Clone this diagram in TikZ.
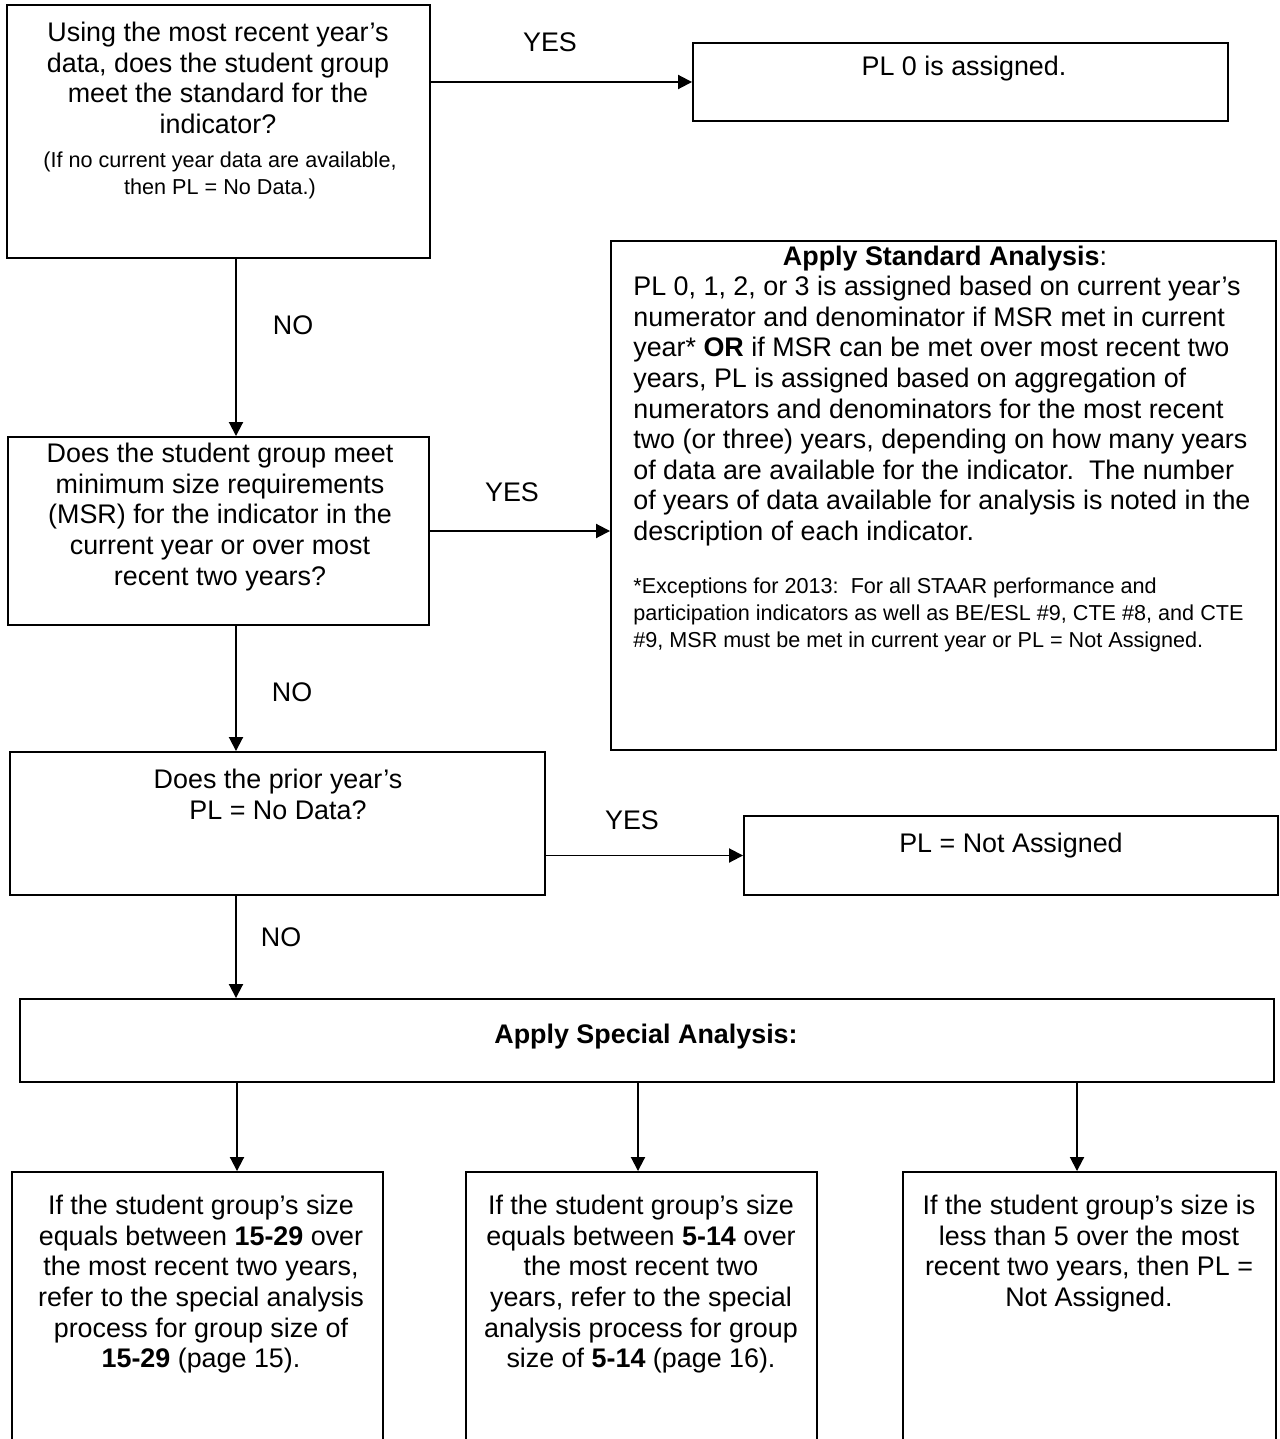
\documentclass[tikz,border=0pt]{standalone}
\usepackage{fontspec}
\setmainfont{Liberation Sans}
\usetikzlibrary{positioning,fit,arrows.meta}

\begin{document}
\begin{tikzpicture}[x=0.02cm, y=-0.02cm, line cap=rect]
  \tikzset{box/.style={draw, line width=1.1pt, inner sep=0pt},
    txt/.style={inner sep=0pt, align=center, font=\fontsize{15.3}{17.4}\selectfont},
    note/.style={inner sep=0pt, font=\fontsize{12.3}{15.4}\selectfont},
    lbl/.style={inner sep=0pt, font=\fontsize{15.3}{17.4}\selectfont},
    flow/.style={line width=1.1pt, -{Triangle[length=0.28cm, width=0.28cm]}}}
  \useasboundingbox (0,0) rectangle (1280,1439);
  \clip (0,0) rectangle (1280,1439);
  % vakken
  \node[box, fit={(7,5) (430,258)}] (q1) {};
  \node[box, fit={(693,43) (1228,121)}] (pl0) {};
  \node[box, fit={(8,437) (429,625)}] (q2) {};
  \node[box, fit={(611,241) (1276,750)}] (std) {};
  \node[box, fit={(10,752) (545,895)}] (q3) {};
  \node[box, fit={(744,816) (1278,895)}] (plna) {};
  \node[box, fit={(20,999) (1274,1082)}] (sa) {};
  \node[box, fit={(12,1172) (383,1470)}] (b1) {};
  \node[box, fit={(466,1172) (817,1470)}] (b2) {};
  \node[box, fit={(903,1172) (1276,1470)}] (b3) {};
  % teksten
  \node[txt, anchor=north] (q1t) at (218,22) {Using the most recent year’s\\data, does the student group\\meet the standard for the\\indicator?};
  \node[note, align=center, anchor=north] (q1n) at (220,151) {(If no current year data are available,\\then PL = No Data.)};
  \node[txt, anchor=north] (pl0t) at (964,56) {PL 0 is assigned.};
  \node[txt, anchor=north] (q2t) at (220,443) {Does the student group meet\\minimum size requirements\\(MSR) for the indicator in the\\current year or over most\\recent two years?};
  \node[txt, anchor=north] (stdh) at (945,246) {\textbf{Apply Standard Analysis}:};
  \node[txt, align=left, anchor=north west] (stdt) at (633,276) {PL 0, 1, 2, or 3 is assigned based on current year’s\\numerator and denominator if MSR met in current\\year* \textbf{OR} if MSR can be met over most recent two\\years, PL is assigned based on aggregation of\\numerators and denominators for the most recent\\two (or three) years, depending on how many years\\of data are available for the indicator.\ \ The number\\of years of data available for analysis is noted in the\\description of each indicator.};
  \node[note, align=left, anchor=north west] (stdn) at (633,577) {*Exceptions for 2013:\ \ For all STAAR performance and\\participation indicators as well as BE/ESL \#9, CTE \#8, and CTE\\\#9, MSR must be met in current year or PL = Not Assigned.};
  \node[txt, anchor=north] (q3t) at (278,769) {Does the prior year’s\\PL = No Data?};
  \node[txt, anchor=north] (plnat) at (1011,833) {PL = Not Assigned};
  \node[txt, anchor=north] (sat) at (646,1024) {\textbf{Apply Special Analysis:}};
  \node[txt, anchor=north] (b1t) at (201,1195) {If the student group’s size\\equals between \textbf{15-29} over\\the most recent two years,\\refer to the special analysis\\process for group size of\\\textbf{15-29} (page 15).};
  \node[txt, anchor=north] (b2t) at (641,1195) {If the student group’s size\\equals between \textbf{5-14} over\\the most recent two\\years, refer to the special\\analysis process for group\\size of \textbf{5-14} (page 16).};
  \node[txt, anchor=north] (b3t) at (1089,1195) {If the student group’s size is\\less than 5 over the most\\recent two years, then PL =\\Not Assigned.};
  % labels
  \node[lbl] (yes1) at (550,42) {YES};
  \node[lbl] (no1) at (293,325) {NO};
  \node[lbl] (yes2) at (512,492) {YES};
  \node[lbl] (no2) at (292,692) {NO};
  \node[lbl] (yes3) at (632,820) {YES};
  \node[lbl] (no3) at (281,937) {NO};
  % pijlen
  \coordinate (spine) at (236,0);
  \coordinate (c1) at (237,0);
  \coordinate (c2) at (638,0);
  \coordinate (c3) at (1077,0);
  \draw[flow] (q1.east |- pl0.west) -- (pl0.west);
  \draw[flow] (q1.south -| spine) -- (q2.north -| spine);
  \draw[flow] (q2.east) -- (q2.east -| std.west);
  \draw[flow] (q2.south -| spine) -- (q3.north -| spine);
  \draw[flow] (q3.east |- plna.west) -- (plna.west);
  \draw[flow] (q3.south -| spine) -- (sa.north -| spine);
  \draw[flow] (sa.south -| c1) -- (b1.north -| c1);
  \draw[flow] (sa.south -| c2) -- (b2.north -| c2);
  \draw[flow] (sa.south -| c3) -- (b3.north -| c3);
\end{tikzpicture}
\end{document}
